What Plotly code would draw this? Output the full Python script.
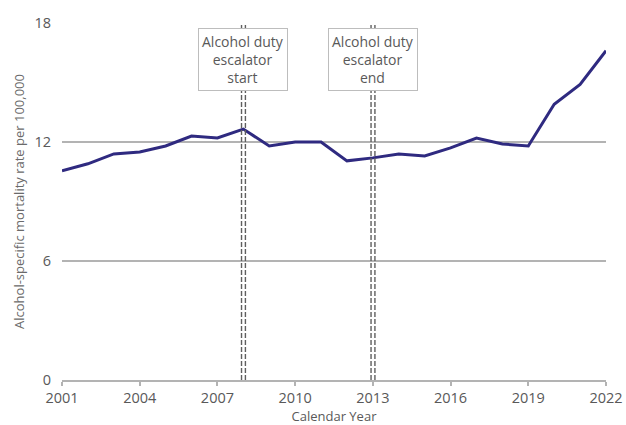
import plotly.graph_objects as go

years = list(range(2001, 2023))
rates = [10.55, 10.9, 11.4, 11.5, 11.8, 12.3, 12.2, 12.65, 11.8, 12.0, 12.0,
         11.05, 11.2, 11.4, 11.3, 11.7, 12.2, 11.9, 11.8, 13.9, 14.9, 16.6]

event_years = [2008, 2013]
event_labels = ["Alcohol duty<br>escalator<br>start", "Alcohol duty<br>escalator<br>end"]

x_ticks = list(range(2001, 2023, 3))
y_ticks = [0, 6, 12, 18]

GRID = "#b3b3b3"
TXT = "#595959"
FONT = "Open Sans"

fig = go.Figure()

fig.add_trace(go.Scatter(
    x=years, y=rates, mode="lines",
    line=dict(color="#2f2a80", width=3),
    showlegend=False,
))

# double dashed marker lines for policy events
for yr in event_years:
    for off in (-0.07, 0.08):
        fig.add_shape(type="line", xref="x", yref="y",
                      x0=yr + off, x1=yr + off, y0=0, y1=18,
                      line=dict(color="#5f5f5f", width=1.4, dash="5px,2px"),
                      layer="above")

for yr, lab in zip(event_years, event_labels):
    fig.add_annotation(
        x=yr, y=17.75, xref="x", yref="y", text=lab, showarrow=False,
        yanchor="top", align="center",
        font=dict(family=FONT, size=14, color=TXT),
        bgcolor="white", bordercolor="#bdbdbd", borderwidth=1, borderpad=3,
    )

fig.update_layout(
    width=626, height=425,
    margin=dict(l=62, r=20, t=23, b=45),
    plot_bgcolor="white", paper_bgcolor="white",
    font=dict(family=FONT, color=TXT, size=14),
)
fig.update_xaxes(
    range=[2001, 2022], tickvals=x_ticks, showgrid=False,
    showline=True, linecolor=GRID, linewidth=2,
    ticks="outside", ticklen=4, tickcolor=GRID, tickwidth=2,
    tickfont=dict(size=14.5, color=TXT), automargin=False,
    title=dict(text="Calendar Year", font=dict(size=13, color=TXT), standoff=4),
    zeroline=False,
)
fig.update_yaxes(
    range=[0, 18], tickvals=y_ticks, showgrid=True, gridcolor=GRID, gridwidth=2,
    zeroline=False, showline=False, automargin=False,
    ticks="", ticklabelstandoff=10,
    tickfont=dict(size=14.5, color=TXT),
    title=dict(text="Alcohol-specific mortality rate per 100,000",
               font=dict(size=13, color="#6a6a6a"), standoff=6),
)

# the page's default body margin shifts the figure; drop it
fig.write_html("out.html", config={"displayModeBar": False},
               post_script="document.body.style.margin='0px';")
